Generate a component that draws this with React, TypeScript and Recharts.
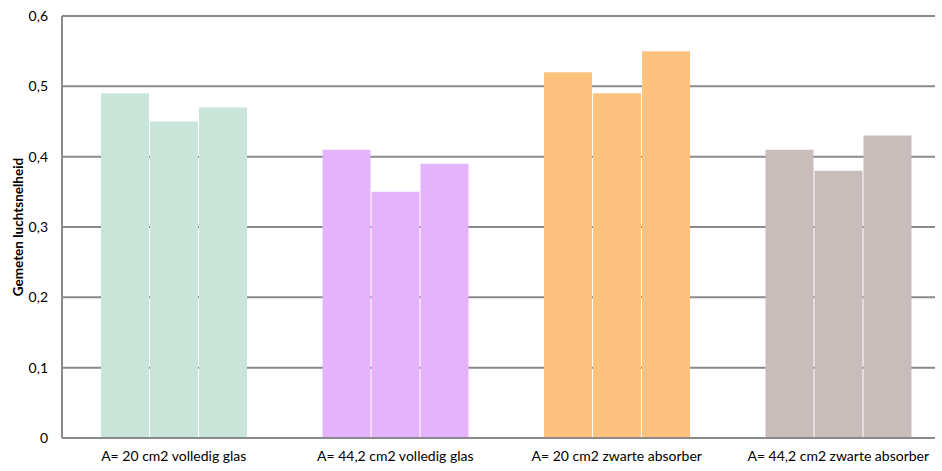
import { BarChart, Bar, XAxis, YAxis, CartesianGrid, Cell } from "recharts";

const categories = [
  "A= 20 cm2 volledig glas",
  "A= 44,2 cm2 volledig glas",
  "A= 20 cm2 zwarte absorber",
  "A= 44,2 cm2 zwarte absorber",
];
const meting1 = [0.49, 0.41, 0.52, 0.41];
const meting2 = [0.45, 0.35, 0.49, 0.38];
const meting3 = [0.47, 0.39, 0.55, 0.43];
const yTicks = [0, 0.1, 0.2, 0.3, 0.4, 0.5, 0.6];

const colors = ["#c9e5da", "#e5b3fd", "#fec27f", "#c8bdbb"];
const axisGray = "#8a8a8a";
const font = "Lato, 'Open Sans', sans-serif";

const data = categories.map((name, i) => ({
  name,
  m1: meting1[i],
  m2: meting2[i],
  m3: meting3[i],
}));

const fmt = (v: number) => (v === 0 ? "0" : v.toFixed(1).replace(".", ","));

export default function App() {
  const series = ["m1", "m2", "m3"];
  return (
    <div style={{ position: "absolute", left: 0, top: 0, width: 942, height: 471, background: "#fff" }}>
      <BarChart
        width={942}
        height={471}
        data={data}
        margin={{ top: 16, right: 7, left: 0, bottom: 0 }}
        barSize={48}
        barGap={1}
      >
        <CartesianGrid vertical={false} stroke={axisGray} strokeWidth={2} />
        <XAxis
          dataKey="name"
          height={33}
          padding={{ left: 1, right: -14 }}
          tickLine={false}
          tickSize={0}
          tickMargin={13}
          axisLine={{ stroke: axisGray, strokeWidth: 2 }}
          tick={{ fontSize: 14, fill: "#000", fontFamily: font }}
          interval={0}
        />
        <YAxis
          width={62}
          domain={[0, 0.6]}
          ticks={yTicks}
          tickFormatter={fmt}
          tickLine={false}
          tickSize={0}
          tickMargin={14}
          axisLine={{ stroke: axisGray, strokeWidth: 2 }}
          tick={{ fontSize: 14, fill: "#000", fontFamily: font }}
          label={{
            value: "Gemeten luchtsnelheid",
            angle: -90,
            position: "insideLeft",
            offset: 18,
            style: { textAnchor: "middle", fontSize: 13.5, fontWeight: 700, fill: "#000", fontFamily: font },
          }}
        />
        {series.map((key) => (
          <Bar key={key} dataKey={key} isAnimationActive={false}>
            {data.map((d, i) => (
              <Cell key={d.name} fill={colors[i]} />
            ))}
          </Bar>
        ))}
      </BarChart>
    </div>
  );
}
